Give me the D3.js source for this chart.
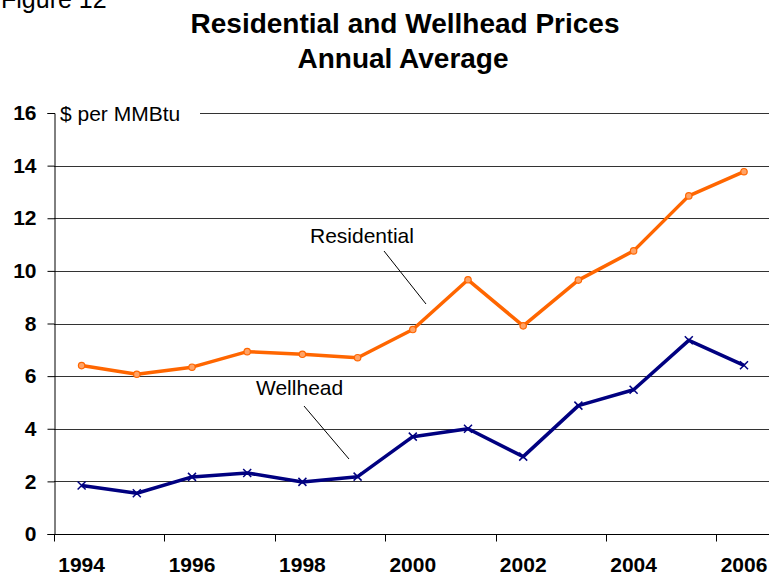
<!DOCTYPE html>
<html>
<head>
<meta charset="utf-8">
<script src="https://cdn.jsdelivr.net/npm/d3@7"></script>
<style>
  body { margin: 0; background: #fff; }
  svg text { font-family: Arial, "Liberation Sans", sans-serif; }
</style>
</head>
<body>
<svg id="chart" width="769" height="575"></svg>
<script>
const years = ['1994','1995','1996','1997','1998','1999','2000','2001','2002','2003','2004','2005','2006'];
const residential = [6.40, 6.07, 6.34, 6.93, 6.83, 6.70, 7.77, 9.66, 7.91, 9.65, 10.76, 12.85, 13.77];
const wellhead = [1.84, 1.55, 2.17, 2.32, 1.98, 2.18, 3.70, 4.00, 2.94, 4.88, 5.48, 7.36, 6.41];
const yTicks = [0, 2, 4, 6, 8, 10, 12, 14, 16];
const xLabelYears = ['1994','1996','1998','2000','2002','2004','2006'];

const svg = d3.select('#chart');
const width = +svg.attr('width');

const x = d3.scaleBand()
  .domain(years)
  .range([54, 54 + 13 * 55.2]);

const y = d3.scaleLinear()
  .domain([0, 16])
  .range([534, 113]);

// "Figure 12" caption, cut off at the top
svg.append('text')
  .attr('x', 1)
  .attr('y', 8)
  .style('font-size', '25px')
  .text('Figure 12');

// title
svg.append('text')
  .attr('x', 405)
  .attr('y', 33)
  .attr('text-anchor', 'middle')
  .style('font-size', '28px')
  .style('font-weight', 'bold')
  .text('Residential and Wellhead Prices');

svg.append('text')
  .attr('x', 403)
  .attr('y', 68)
  .attr('text-anchor', 'middle')
  .style('font-size', '28px')
  .style('font-weight', 'bold')
  .text('Annual Average');

// gridlines
svg.append('g')
  .selectAll('line')
  .data(yTicks.filter(d => d > 0))
  .enter().append('line')
    .attr('x1', 54)
    .attr('x2', width)
    .attr('y1', d => Math.round(y(d)) + 0.5)
    .attr('y2', d => Math.round(y(d)) + 0.5)
    .attr('stroke', '#333')
    .attr('stroke-width', 1);

// unit label with white box over the top gridline
svg.append('rect')
  .attr('x', 55)
  .attr('y', 100)
  .attr('width', 145)
  .attr('height', 26)
  .attr('fill', '#fff');

svg.append('text')
  .attr('x', 60)
  .attr('y', 121)
  .style('font-size', '21px')
  .text('$ per MMBtu');

// y axis
const yAxis = svg.append('g')
  .attr('transform', 'translate(54.5,0)')
  .call(d3.axisLeft(y).tickValues(yTicks).tickSize(7).tickPadding(11));

yAxis.selectAll('.tick line').attr('stroke', '#000');
yAxis.select('.domain').attr('stroke', '#000');
yAxis.selectAll('.tick text')
  .style('font-size', '21px')
  .style('font-weight', 'bold')
  .attr('fill', '#000');

// x axis: labels centred on categories, tick marks on every other boundary
const xAxis = svg.append('g')
  .attr('transform', 'translate(0,534.5)')
  .call(d3.axisBottom(x).tickValues(xLabelYears).tickSize(0).tickPadding(23));

xAxis.select('.domain').remove();
xAxis.selectAll('.tick text')
  .style('font-size', '21px')
  .style('font-weight', 'bold')
  .attr('fill', '#000');

xAxis.append('line')
  .attr('x1', 54)
  .attr('x2', width)
  .attr('stroke', '#000');

xAxis.selectAll('.xtick')
  .data(xLabelYears)
  .enter().append('line')
    .attr('class', 'xtick')
    .attr('x1', d => Math.round(x(d)) + 0.5)
    .attr('x2', d => Math.round(x(d)) + 0.5)
    .attr('y1', 0)
    .attr('y2', 7)
    .attr('stroke', '#000');

// series
const cx = d => x(d) + x.bandwidth() / 2;

const line = d3.line()
  .x((d, i) => cx(years[i]))
  .y(d => y(d));

svg.append('path')
  .datum(residential)
  .attr('d', line)
  .attr('fill', 'none')
  .attr('stroke', '#FF6600')
  .attr('stroke-width', 3.5)
  .attr('stroke-linejoin', 'round');

svg.append('path')
  .datum(wellhead)
  .attr('d', line)
  .attr('fill', 'none')
  .attr('stroke', '#000080')
  .attr('stroke-width', 3.5)
  .attr('stroke-linejoin', 'round');

svg.selectAll('.res-marker')
  .data(residential)
  .enter().append('circle')
    .attr('class', 'res-marker')
    .attr('cx', (d, i) => cx(years[i]))
    .attr('cy', d => y(d))
    .attr('r', 3.2)
    .attr('fill', '#FFA366')
    .attr('stroke', '#FF6600')
    .attr('stroke-width', 1.2);

svg.selectAll('.well-marker')
  .data(wellhead)
  .enter().append('path')
    .attr('class', 'well-marker')
    .attr('transform', (d, i) => `translate(${cx(years[i])},${y(d)})`)
    .attr('d', 'M-4,-4L4,4M-4,4L4,-4')
    .attr('stroke', '#000080')
    .attr('stroke-width', 1.5);

// annotations
svg.append('text')
  .attr('x', 310)
  .attr('y', 243)
  .style('font-size', '21px')
  .text('Residential');

svg.append('line')
  .attr('x1', 384).attr('y1', 251)
  .attr('x2', 426).attr('y2', 304)
  .attr('stroke', '#000')
  .attr('stroke-width', 1);

svg.append('text')
  .attr('x', 256)
  .attr('y', 395)
  .style('font-size', '21px')
  .text('Wellhead');

svg.append('line')
  .attr('x1', 304).attr('y1', 406)
  .attr('x2', 349).attr('y2', 459)
  .attr('stroke', '#000')
  .attr('stroke-width', 1);
</script>
</body>
</html>
